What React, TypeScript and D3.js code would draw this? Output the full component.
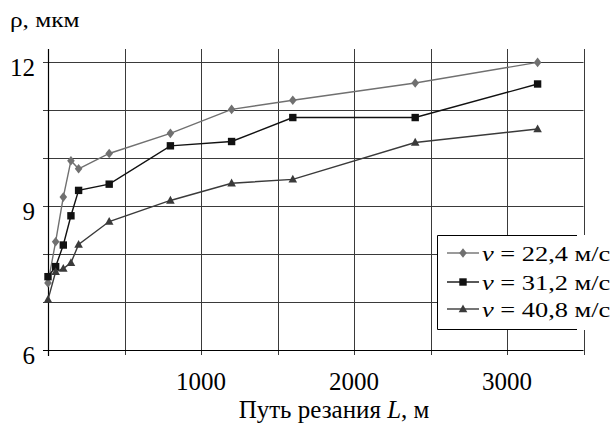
import React from 'react';
import * as d3 from 'd3';

// cutting path L, m
const pathLengths = [0, 50, 100, 150, 200, 400, 800, 1200, 1600, 2400, 3200];
// roughness rho, um, per cutting speed
const rho224 = [7.4, 8.26, 9.19, 9.95, 9.78, 10.1, 10.52, 11.02, 11.21, 11.57, 12.0];
const rho312 = [7.53, 7.74, 8.19, 8.8, 9.33, 9.46, 10.26, 10.35, 10.85, 10.85, 11.55];
const rho408 = [7.05, 7.63, 7.7, 7.82, 8.2, 8.68, 9.12, 9.48, 9.56, 10.33, 10.61];
const speedLabels = ['22,4', '31,2', '40,8'];
const xTickLabels = [1000, 2000, 3000];
const yTickLabels = [6, 9, 12];

const W = 616;
const H = 423;
const FONT = '"Liberation Serif", "Times New Roman", serif';

const series = [
  { values: rho224, label: speedLabels[0], color: '#707070', marker: 'diamond' },
  { values: rho312, label: speedLabels[1], color: '#111111', marker: 'square' },
  { values: rho408, label: speedLabels[2], color: '#3a3a3a', marker: 'triangle' },
];

const markerPath = (kind: string) => {
  if (kind === 'diamond') return 'M0,-4.8L3.8,0L0,4.8L-3.8,0Z';
  if (kind === 'square') return 'M-3.7,-3.7H3.7V3.7H-3.7Z';
  return 'M0,-4.6L4.3,3.2H-4.3Z';
};

export default function App() {
  const x = d3.scaleLinear().domain([0, 3500]).range([48, 583.5]);
  const y = d3.scaleLinear().domain([6, 12.28]).range([350, 49]);
  const gridX = d3.range(500, 3501, 500);
  const gridY = d3.range(7, 13, 1);

  const line = d3
    .line<number>()
    .x((d, i) => x(pathLengths[i]))
    .y(d => y(d));

  const legendX = 437;
  const legendRows = [253, 282, 309];

  return (
    <svg
      width={W}
      height={H}
      style={{ position: 'absolute', left: 0, top: 0, background: '#fff' }}
      fontFamily={FONT}
    >
      {/* grid */}
      {gridY.map(v => (
        <line key={'gy' + v} x1={43} x2={x(3500)} y1={Math.round(y(v)) + 0.5} y2={Math.round(y(v)) + 0.5} stroke="#3a3a3a" strokeWidth={1} />
      ))}
      {gridX.map(v => (
        <line key={'gx' + v} x1={Math.round(x(v)) + 0.5} x2={Math.round(x(v)) + 0.5} y1={y(12.28)} y2={355} stroke="#3a3a3a" strokeWidth={1} />
      ))}
      {/* axes */}
      <line x1={48.5} x2={48.5} y1={y(12.28)} y2={356} stroke="#000" strokeWidth={1.2} />
      <line x1={43} x2={x(3500)} y1={350.5} y2={350.5} stroke="#000" strokeWidth={1.2} />

      {/* tick labels */}
      {yTickLabels.map(v => (
        <text key={'yl' + v} x={35} y={y(v) + 5} dy="0.35em" textAnchor="end" fontSize={25}>
          {v}
        </text>
      ))}
      {xTickLabels.map(v => (
        <text key={'xl' + v} x={x(v)} y={390} textAnchor="middle" fontSize={25}>
          {v}
        </text>
      ))}

      {/* series */}
      {series.map(s => (
        <g key={s.label}>
          <path d={line(s.values) || ''} fill="none" stroke={s.color} strokeWidth={1.4} />
          {s.values.map((v, i) => (
            <path key={i} d={markerPath(s.marker)} transform={`translate(${x(pathLengths[i])},${y(v)})`} fill={s.color} />
          ))}
        </g>
      ))}

      {/* axis titles */}
      <text transform="translate(10,27) scale(1.15,1)" fontSize={22}>
        ρ, мкм
      </text>
      <text x={334} y={418} textAnchor="middle" fontSize={25}>
        Путь резания <tspan fontStyle="italic">L</tspan>, м
      </text>

      {/* legend */}
      <rect x={legendX} y={235} width={W - legendX} height={95} fill="#fff" />
      <path d={`M577,235.5H${legendX + 0.5}V329.5H577`} fill="none" stroke="#000" strokeWidth={1} />
      {series.map((s, i) => (
        <g key={'lg' + s.label}>
          <line x1={447} x2={479} y1={legendRows[i]} y2={legendRows[i]} stroke={s.color} strokeWidth={1.4} />
          <path d={markerPath(s.marker)} transform={`translate(463,${legendRows[i]})`} fill={s.color} />
          <text transform={`translate(482,${legendRows[i] + 8}) scale(1.2,1)`} fontSize={22}>
            <tspan fontStyle="italic">v</tspan> = {s.label} м/с
          </text>
        </g>
      ))}
    </svg>
  );
}
